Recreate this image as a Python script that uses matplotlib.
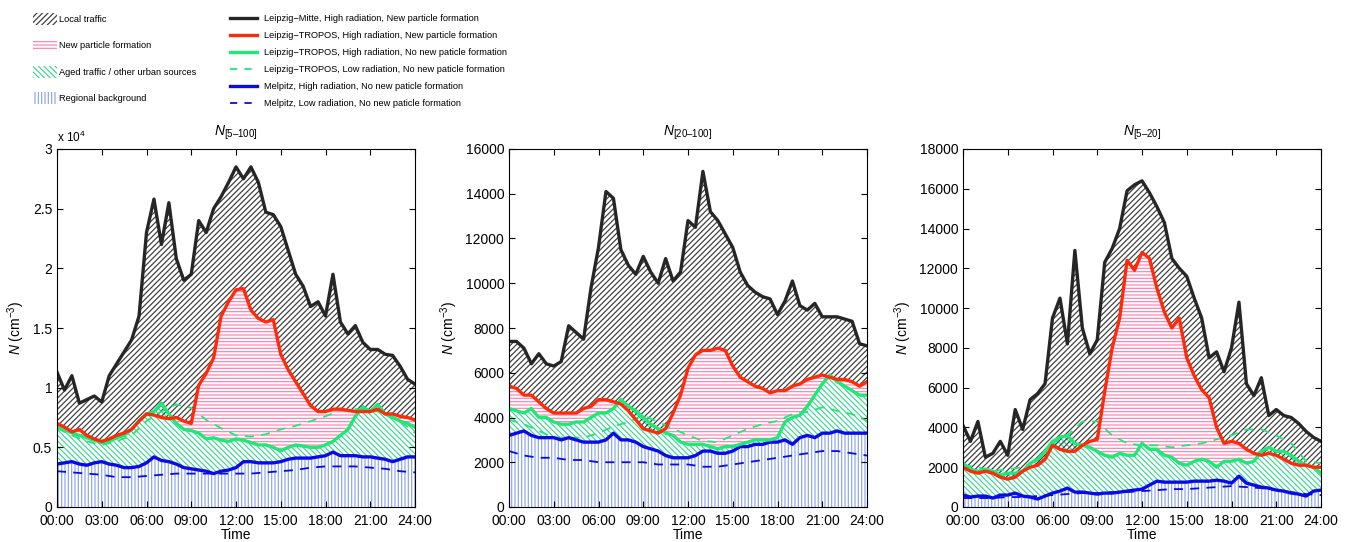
import numpy as np
import matplotlib.pyplot as plt
from matplotlib.patches import Patch
from matplotlib.lines import Line2D

plt.rcParams['font.family'] = ['Liberation Sans', 'DejaVu Sans']
plt.rcParams['mathtext.fontset'] = 'custom'
plt.rcParams['mathtext.rm'] = 'Liberation Sans'
plt.rcParams['mathtext.it'] = 'Liberation Sans:italic'
plt.rcParams['hatch.linewidth'] = 0.85

t = np.arange(0, 24.5, 0.5)   # half-hourly
th = np.arange(0, 25, 1)      # hourly (low radiation curves)

# ---- N[5-100], in 10^4 cm^-3
mitte_a = [1.13, 0.98, 1.10, 0.87, 0.90, 0.93, 0.88, 1.10, 1.20, 1.30, 1.40, 1.60,
           2.30, 2.58, 2.20, 2.55, 2.08, 1.90, 1.95, 2.40, 2.30, 2.50, 2.60, 2.72,
           2.85, 2.75, 2.85, 2.72, 2.47, 2.45, 2.35, 2.15, 1.95, 1.85, 1.68, 1.72,
           1.60, 1.95, 1.55, 1.45, 1.52, 1.38, 1.32, 1.32, 1.28, 1.27, 1.18, 1.07, 1.03]
tropos_npf_a = [0.70, 0.67, 0.63, 0.65, 0.60, 0.57, 0.55, 0.57, 0.60, 0.62, 0.65, 0.72,
                0.78, 0.77, 0.75, 0.74, 0.75, 0.72, 0.70, 1.02, 1.12, 1.25, 1.60, 1.72,
                1.82, 1.83, 1.65, 1.58, 1.55, 1.57, 1.28, 1.15, 1.05, 0.95, 0.85, 0.80,
                0.80, 0.82, 0.82, 0.81, 0.80, 0.80, 0.80, 0.82, 0.78, 0.78, 0.76, 0.75, 0.73]
tropos_hi_a = [0.68, 0.65, 0.62, 0.60, 0.58, 0.56, 0.54, 0.55, 0.58, 0.60, 0.65, 0.72,
               0.78, 0.80, 0.87, 0.78, 0.70, 0.65, 0.64, 0.62, 0.57, 0.58, 0.56, 0.55,
               0.57, 0.56, 0.54, 0.52, 0.52, 0.50, 0.47, 0.50, 0.52, 0.51, 0.50, 0.50,
               0.52, 0.55, 0.60, 0.65, 0.76, 0.84, 0.80, 0.86, 0.78, 0.75, 0.72, 0.70, 0.67]
tropos_lo_a = [0.66, 0.60, 0.55, 0.52, 0.55, 0.60, 0.72, 0.80, 0.86, 0.83, 0.73, 0.66, 0.60,
               0.59, 0.61, 0.65, 0.68, 0.72, 0.76, 0.81, 0.82, 0.81, 0.79, 0.72, 0.62]
melpitz_hi_a = [0.36, 0.37, 0.38, 0.36, 0.35, 0.37, 0.38, 0.36, 0.35, 0.33, 0.33, 0.34,
                0.37, 0.42, 0.39, 0.38, 0.36, 0.33, 0.32, 0.31, 0.30, 0.28, 0.30, 0.31,
                0.33, 0.38, 0.38, 0.37, 0.37, 0.37, 0.38, 0.40, 0.41, 0.41, 0.41, 0.42,
                0.43, 0.46, 0.43, 0.43, 0.43, 0.42, 0.42, 0.41, 0.40, 0.38, 0.40, 0.42, 0.42]
melpitz_lo_a = [0.30, 0.29, 0.28, 0.27, 0.25, 0.25, 0.26, 0.27, 0.28, 0.28, 0.28, 0.28, 0.28,
                0.28, 0.29, 0.30, 0.31, 0.33, 0.34, 0.34, 0.34, 0.33, 0.32, 0.30, 0.29]

# ---- N[20-100], cm^-3
mitte_b = [7400, 7400, 7100, 6400, 6850, 6400, 6300, 6500, 8100, 7800, 7500, 9800,
           11600, 14100, 13800, 11500, 10800, 10400, 11200, 10500, 10000, 11100, 10100, 10500,
           12800, 12500, 15000, 13200, 12800, 12200, 11600, 10500, 9900, 9600, 9400, 9300,
           8600, 9200, 10100, 9000, 8800, 9100, 8500, 8500, 8500, 8400, 8300, 7300, 7200]
tropos_npf_b = [5400, 5300, 5000, 5000, 4700, 4400, 4200, 4200, 4200, 4200, 4400, 4500,
                4800, 4800, 4700, 4600, 4300, 3900, 3500, 3400, 3300, 3500, 4200, 5000,
                6200, 6800, 7000, 7000, 7100, 7000, 6300, 5800, 5600, 5400, 5300, 5100,
                5200, 5200, 5400, 5500, 5700, 5800, 5900, 5800, 5700, 5700, 5600, 5400, 5600]
tropos_hi_b = [4400, 4300, 4200, 4400, 4000, 4000, 3800, 3700, 3700, 3800, 3800, 4000,
               4200, 4200, 4400, 4800, 4500, 4300, 4000, 3700, 3500, 3300, 3200, 2900,
               2800, 2800, 2800, 2700, 2600, 2700, 2700, 2800, 2900, 3000, 3000, 3000,
               3100, 3800, 4000, 4100, 4500, 5000, 5500, 5900, 5600, 5400, 5200, 5000, 5000]
tropos_lo_b = [3900, 3700, 3400, 3100, 3100, 3100, 3300, 3600, 3800, 4100, 3800, 3500, 3200,
               2950, 2900, 3200, 3500, 3700, 3850, 4150, 4250, 4450, 4300, 4150, 3850]
melpitz_hi_b = [3200, 3300, 3400, 3200, 3100, 3100, 3100, 3000, 3100, 3000, 2900, 2900,
                2900, 3000, 3300, 3000, 3000, 2900, 2700, 2600, 2500, 2300, 2200, 2200,
                2200, 2300, 2500, 2500, 2400, 2400, 2500, 2700, 2700, 2800, 2800, 2900,
                2900, 3000, 2800, 3100, 3200, 3100, 3300, 3300, 3400, 3300, 3300, 3300, 3300]
melpitz_lo_b = [2500, 2300, 2200, 2200, 2100, 2100, 2000, 2000, 2000, 2000, 1900, 1900, 1900,
                1800, 1800, 1900, 2000, 2100, 2200, 2300, 2400, 2500, 2500, 2400, 2300]

# ---- N[5-20], cm^-3
mitte_c = [4100, 3300, 4300, 2500, 2700, 3300, 2600, 4900, 3900, 5400, 5700, 6200,
           9500, 10500, 8200, 12900, 9000, 7700, 8400, 12300, 13000, 14000, 15900, 16200,
           16400, 15800, 15100, 14300, 12500, 12000, 11600, 10500, 9500, 7500, 7800, 6800,
           8000, 10300, 6200, 5600, 6500, 4600, 4900, 4600, 4500, 4200, 3800, 3500, 3300]
tropos_npf_c = [2000, 1800, 1700, 1800, 1700, 1500, 1400, 1500, 1800, 2000, 2100, 2400,
                3100, 2900, 2800, 2800, 3100, 3300, 3400, 5800, 8000, 9500, 12400, 11900,
                12800, 12500, 11000, 9800, 9000, 9500, 7500, 6600, 5900, 5500, 4000, 3200,
                3300, 3200, 2900, 2700, 2600, 2700, 2600, 2400, 2200, 2100, 2100, 2000, 2000]
tropos_hi_c = [2200, 1900, 1800, 1900, 1800, 1600, 1700, 1700, 1800, 2200, 2400, 2800,
               3300, 3500, 3600, 3200, 3100, 3000, 2800, 2600, 2500, 2700, 2600, 2600,
               3200, 2900, 2900, 2600, 2500, 2200, 2100, 2300, 2400, 2300, 2000, 2300,
               2300, 2400, 2200, 2300, 2800, 3000, 2800, 2800, 2600, 2300, 2100, 2000, 1700]
tropos_lo_c = [2100, 2000, 1800, 1900, 2000, 2400, 3200, 3600, 4300, 4300, 3600, 3200, 3100,
               3100, 3000, 3100, 3200, 3400, 3600, 3900, 3900, 3600, 3200, 2300, 2200]
melpitz_hi_c = [600, 500, 550, 550, 450, 600, 600, 700, 550, 500, 400, 550,
                700, 800, 950, 750, 750, 700, 650, 700, 700, 750, 800, 850,
                900, 1100, 1300, 1250, 1250, 1250, 1250, 1300, 1300, 1300, 1350, 1300,
                1200, 1550, 1200, 1100, 1000, 950, 850, 800, 700, 650, 550, 800, 850]
melpitz_lo_c = [450, 450, 450, 500, 500, 550, 600, 650, 700, 700, 750, 750, 800,
                850, 900, 900, 950, 1000, 1050, 1000, 950, 850, 750, 650, 600]

titles = ['$N_{\\mathrm{[5\u2013100]}}$', '$N_{\\mathrm{[20\u2013100]}}$', '$N_{\\mathrm{[5\u201320]}}$']
ylims = [3, 16000, 18000]
ystep = [0.5, 2000, 2000]
xticks = [0, 3, 6, 9, 12, 15, 18, 21, 24]
xlabels = ['00:00', '03:00', '06:00', '09:00', '12:00', '15:00', '18:00', '21:00', '24:00']

panels = [
    (mitte_a, tropos_npf_a, tropos_hi_a, tropos_lo_a, melpitz_hi_a, melpitz_lo_a),
    (mitte_b, tropos_npf_b, tropos_hi_b, tropos_lo_b, melpitz_hi_b, melpitz_lo_b),
    (mitte_c, tropos_npf_c, tropos_hi_c, tropos_lo_c, melpitz_hi_c, melpitz_lo_c),
]

c_black = '#262626'
c_red = '#ff2a0a'
c_green = '#1ee878'
c_blue = '#0a0ae6'
h_gray = '#3a3a3a'
h_pink = '#ff80b0'
h_green = '#3cd890'
h_blue = '#8ca6ee'
hatch_gray = '//////'
hatch_green = '\\' * 6
hatch_pink = '-----'
hatch_blue = '|||||'

fig = plt.figure(figsize=(13.5, 5.42), dpi=100)
lefts = [57 / 1350, 509 / 1350, 963 / 1350]
for i in range(3):
    ax = fig.add_axes([lefts[i], 35 / 542, 358 / 1350, 358 / 542])
    mitte, npf, hi, lo, mhi, mlo = [np.array(a) for a in panels[i]]

    ax.fill_between(t, 0, mhi, facecolor='none', edgecolor=h_blue, hatch=hatch_blue, lw=0)
    ax.fill_between(t, mhi, hi, facecolor='none', edgecolor=h_green, hatch=hatch_green, lw=0)
    ax.fill_between(t, hi, npf, where=npf > hi, interpolate=True,
                    facecolor='none', edgecolor=h_pink, hatch=hatch_pink, lw=0)
    ax.fill_between(t, npf, mitte, facecolor='none', edgecolor=h_gray, hatch=hatch_gray, lw=0)

    ax.plot(th, mlo, color=c_blue, lw=1.3, dashes=(5, 4))
    ax.plot(th, lo, color=c_green, lw=1.3, dashes=(5, 4))
    ax.plot(t, mhi, color=c_blue, lw=2.4)
    ax.plot(t, hi, color=c_green, lw=2.4)
    ax.plot(t, npf, color=c_red, lw=2.4)
    ax.plot(t, mitte, color=c_black, lw=2.4)

    ax.set_xlim(0, 24)
    ax.set_ylim(0, ylims[i])
    ax.set_xticks(xticks)
    ax.set_xticklabels(xlabels)
    ax.set_yticks(np.arange(0, ylims[i] + ystep[i] / 2, ystep[i]))
    if i == 0:
        ax.set_yticklabels(['%g' % v for v in np.arange(0, 3.01, 0.5)])
        ax.text(0, 1.012, r'x 10$^4$', transform=ax.transAxes, fontsize=8.5, va='bottom')
    ax.tick_params(direction='in', top=True, right=True, length=4, labelsize=10)
    ax.tick_params(axis='x', pad=5)
    ax.set_title(titles[i], fontsize=10, pad=10)
    ax.set_xlabel('Time', fontsize=10, labelpad=0)
    ax.set_ylabel(r'$N$ (cm$^{-3}$)', fontsize=10, labelpad=4)

leg_font = {'size': 6.7}

area_handles = [
    Patch(facecolor='none', edgecolor=h_gray, hatch=hatch_gray, lw=0),
    Patch(facecolor='none', edgecolor=h_pink, hatch=hatch_pink, lw=0),
    Patch(facecolor='none', edgecolor=h_green, hatch=hatch_green, lw=0),
    Patch(facecolor='none', edgecolor=h_blue, hatch=hatch_blue, lw=0),
]
area_labels = ['Local traffic', 'New particle formation',
               'Aged traffic / other urban sources', 'Regional background']
fig.legend(area_handles, area_labels, loc='upper left', bbox_to_anchor=(33 / 1350, 1 - 13 / 542),
           frameon=False, prop=leg_font, handlelength=2.6, handleheight=1.6,
           handletextpad=0.2, labelspacing=1.55, borderpad=0, borderaxespad=0)

line_handles = [
    Line2D([], [], color=c_black, lw=2.4),
    Line2D([], [], color=c_red, lw=2.4),
    Line2D([], [], color=c_green, lw=2.4),
    Line2D([], [], color=c_green, lw=1.3, dashes=(4, 4)),
    Line2D([], [], color=c_blue, lw=2.4),
    Line2D([], [], color=c_blue, lw=1.3, dashes=(4, 4)),
]
line_labels = ['Leipzig\u2212Mitte, High radiation, New particle formation',
               'Leipzig\u2212TROPOS, High radiation, New particle formation',
               'Leipzig\u2212TROPOS, High radiation, No new paticle formation',
               'Leipzig\u2212TROPOS, Low radiation, No new paticle formation',
               'Melpitz, High radiation, No new paticle formation',
               'Melpitz, Low radiation, No new paticle formation']
fig.legend(line_handles, line_labels, loc='upper left', bbox_to_anchor=(230 / 1350, 1 - 14 / 542),
           frameon=False, prop=leg_font, handlelength=2.9, handletextpad=0.75,
           labelspacing=0.87, borderpad=0, borderaxespad=0)

fig.savefig('out.png', dpi=100)
